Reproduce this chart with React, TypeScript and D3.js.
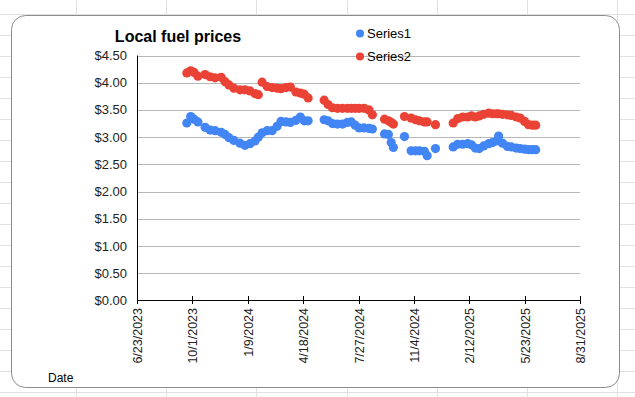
import React from "react";
import * as d3 from "d3";

const dates = [
  "9/21/2023", "9/28/2023", "10/4/2023", "10/11/2023", "10/24/2023", "11/2/2023", "11/11/2023",
  "11/22/2023", "11/29/2023", "12/6/2023", "12/15/2023", "12/26/2023", "1/4/2024", "1/13/2024",
  "1/22/2024", "1/28/2024", "2/4/2024", "2/13/2024", "2/22/2024", "3/2/2024", "3/9/2024",
  "3/18/2024", "3/26/2024", "4/5/2024", "4/13/2024", "4/20/2024", "4/27/2024",
  "5/26/2024", "6/2/2024", "6/10/2024", "6/19/2024", "6/28/2024", "7/7/2024", "7/14/2024",
  "7/21/2024", "7/28/2024", "8/6/2024", "8/15/2024", "8/21/2024",
  "9/12/2024", "9/19/2024", "9/24/2024", "9/28/2024", "10/18/2024", "10/30/2024", "11/7/2024",
  "11/14/2024", "11/23/2024", "11/28/2024", "12/13/2024",
  "1/14/2025", "1/22/2025", "1/31/2025", "2/9/2025", "2/16/2025", "2/23/2025", "3/2/2025",
  "3/10/2025", "3/19/2025", "3/26/2025", "4/2/2025", "4/6/2025", "4/13/2025", "4/22/2025",
  "4/29/2025", "5/8/2025", "5/15/2025", "5/23/2025", "5/30/2025", "6/6/2025", "6/12/2025",
];

const series1 = [
  3.26, 3.38, 3.33, 3.28, 3.18, 3.13, 3.12,
  3.09, 3.05, 2.99, 2.94, 2.89, 2.85, 2.88,
  2.93, 3.0, 3.08, 3.12, 3.12, 3.2, 3.29,
  3.28, 3.27, 3.31, 3.37, 3.3, 3.3,
  3.32, 3.3, 3.25, 3.24, 3.24, 3.27, 3.28,
  3.22, 3.17, 3.17, 3.16, 3.15,
  3.06, 3.05, 2.9, 2.81, 3.01, 2.75, 2.75,
  2.75, 2.74, 2.66, 2.79,
  2.82, 2.87, 2.87, 2.88, 2.86, 2.8, 2.79,
  2.84, 2.88, 2.9, 2.93, 3.02, 2.89, 2.83,
  2.82, 2.8, 2.79, 2.78, 2.77, 2.77, 2.77,
];

const series2 = [
  4.18, 4.22, 4.19, 4.12, 4.15, 4.11, 4.09,
  4.1, 4.02, 3.96, 3.9, 3.87, 3.87, 3.85,
  3.8, 3.78, 4.01, 3.93, 3.91, 3.9, 3.89,
  3.91, 3.92, 3.83, 3.81, 3.79, 3.72,
  3.68, 3.6, 3.54, 3.53, 3.53, 3.53, 3.53,
  3.53, 3.53, 3.53, 3.5, 3.41,
  3.33, 3.3, 3.27, 3.24, 3.38, 3.35, 3.32,
  3.3, 3.28, 3.28, 3.23,
  3.26, 3.34, 3.37, 3.37, 3.39, 3.37, 3.39,
  3.42, 3.44, 3.43, 3.43, 3.43, 3.42, 3.41,
  3.4, 3.37, 3.35, 3.29, 3.23, 3.22, 3.22,
];

const seriesNames = ["Series1", "Series2"];
const seriesColors = ["#4285f4", "#ea4335"];
const yTicks = [0, 0.5, 1, 1.5, 2, 2.5, 3, 3.5, 4, 4.5];
const xStart = "6/23/2023";
const xEnd = "8/31/2025";

const W = 635;
const H = 397;
const font = "Arial, 'Liberation Sans', sans-serif";

export default function App() {
  const parse = d3.timeParse("%m/%d/%Y");
  const fmt = (d: Date) => `${d.getMonth() + 1}/${d.getDate()}/${d.getFullYear()}`;

  const x = d3.scaleTime()
    .domain([parse(xStart)!, parse(xEnd)!])
    .range([137, 580]);
  const y = d3.scaleLinear().domain([0, 4.5]).range([300.5, 55.5]);

  // ticks every 100 days like the sheet
  const xTicks = d3.range(0, 9).map(i => d3.timeDay.offset(parse(xStart)!, i * 100));

  const points = dates.map((d, i) => ({ date: parse(d)!, s1: series1[i], s2: series2[i] }));

  // spreadsheet cell grid behind the chart
  const cols = d3.range(0, 8).map(i => 76 + i * 90.2);
  const rows = d3.range(0, 19).map(i => 14 + i * 21);

  return (
    <svg width={W} height={H} style={{ position: "absolute", left: 0, top: 0, background: "#fff" }}>
      <g stroke="#e1e1e1" strokeWidth={1}>
        {cols.map(c => <line key={"c" + c} x1={Math.round(c) + 0.5} x2={Math.round(c) + 0.5} y1={0} y2={H} />)}
        {rows.map(r => <line key={"r" + r} x1={0} x2={W} y1={r + 0.5} y2={r + 0.5} />)}
      </g>

      <rect x={11.5} y={15.5} width={608} height={372} rx={14} fill="#fff" stroke="#8c8c8c" strokeWidth={1} />

      <text x={178} y={42} textAnchor="middle" fontFamily={font} fontWeight="bold" fontSize={16} fill="#000">
        Local fuel prices
      </text>

      {/* gridlines + y labels */}
      {yTicks.map(t => (
        <g key={t}>
          {t > 0 && <line x1={137} x2={580} y1={Math.round(y(t)) + 0.5} y2={Math.round(y(t)) + 0.5} stroke="#b7b7b7" />}
          <text x={127} y={y(t)} dy="0.35em" textAnchor="end" fontFamily={font} fontSize={13} fill="#222">
            {d3.format("$.2f")(t)}
          </text>
        </g>
      ))}

      {/* axes */}
      <line x1={137.5} x2={137.5} y1={55.5} y2={300.5} stroke="#000" />
      <line x1={137} x2={580} y1={300.5} y2={300.5} stroke="#000" />
      {xTicks.map(t => (
        <g key={t.getTime()} transform={`translate(${Math.round(x(t)) + 0.5},0)`}>
          <line y1={296} y2={304} stroke="#000" />
          <text transform="translate(0,308) rotate(-90)" dy="0.35em" textAnchor="end" fontFamily={font} fontSize={12.5} fill="#222">
            {fmt(t)}
          </text>
        </g>
      ))}

      <text x={48} y={382} fontFamily={font} fontSize={12} fill="#000">Date</text>

      {/* points */}
      {points.map((p, i) => (
        <circle key={"a" + i} cx={x(p.date)} cy={y(p.s1)} r={4.6} fill={seriesColors[0]} />
      ))}
      {points.map((p, i) => (
        <circle key={"b" + i} cx={x(p.date)} cy={y(p.s2)} r={4.6} fill={seriesColors[1]} />
      ))}

      {/* legend */}
      {seriesNames.map((n, i) => (
        <g key={n} transform={`translate(360,${33.5 + i * 23})`}>
          <circle r={4} fill={seriesColors[i]} />
          <text x={7} dy="0.35em" fontFamily={font} fontSize={13} fill="#000">{n}</text>
        </g>
      ))}
    </svg>
  );
}
